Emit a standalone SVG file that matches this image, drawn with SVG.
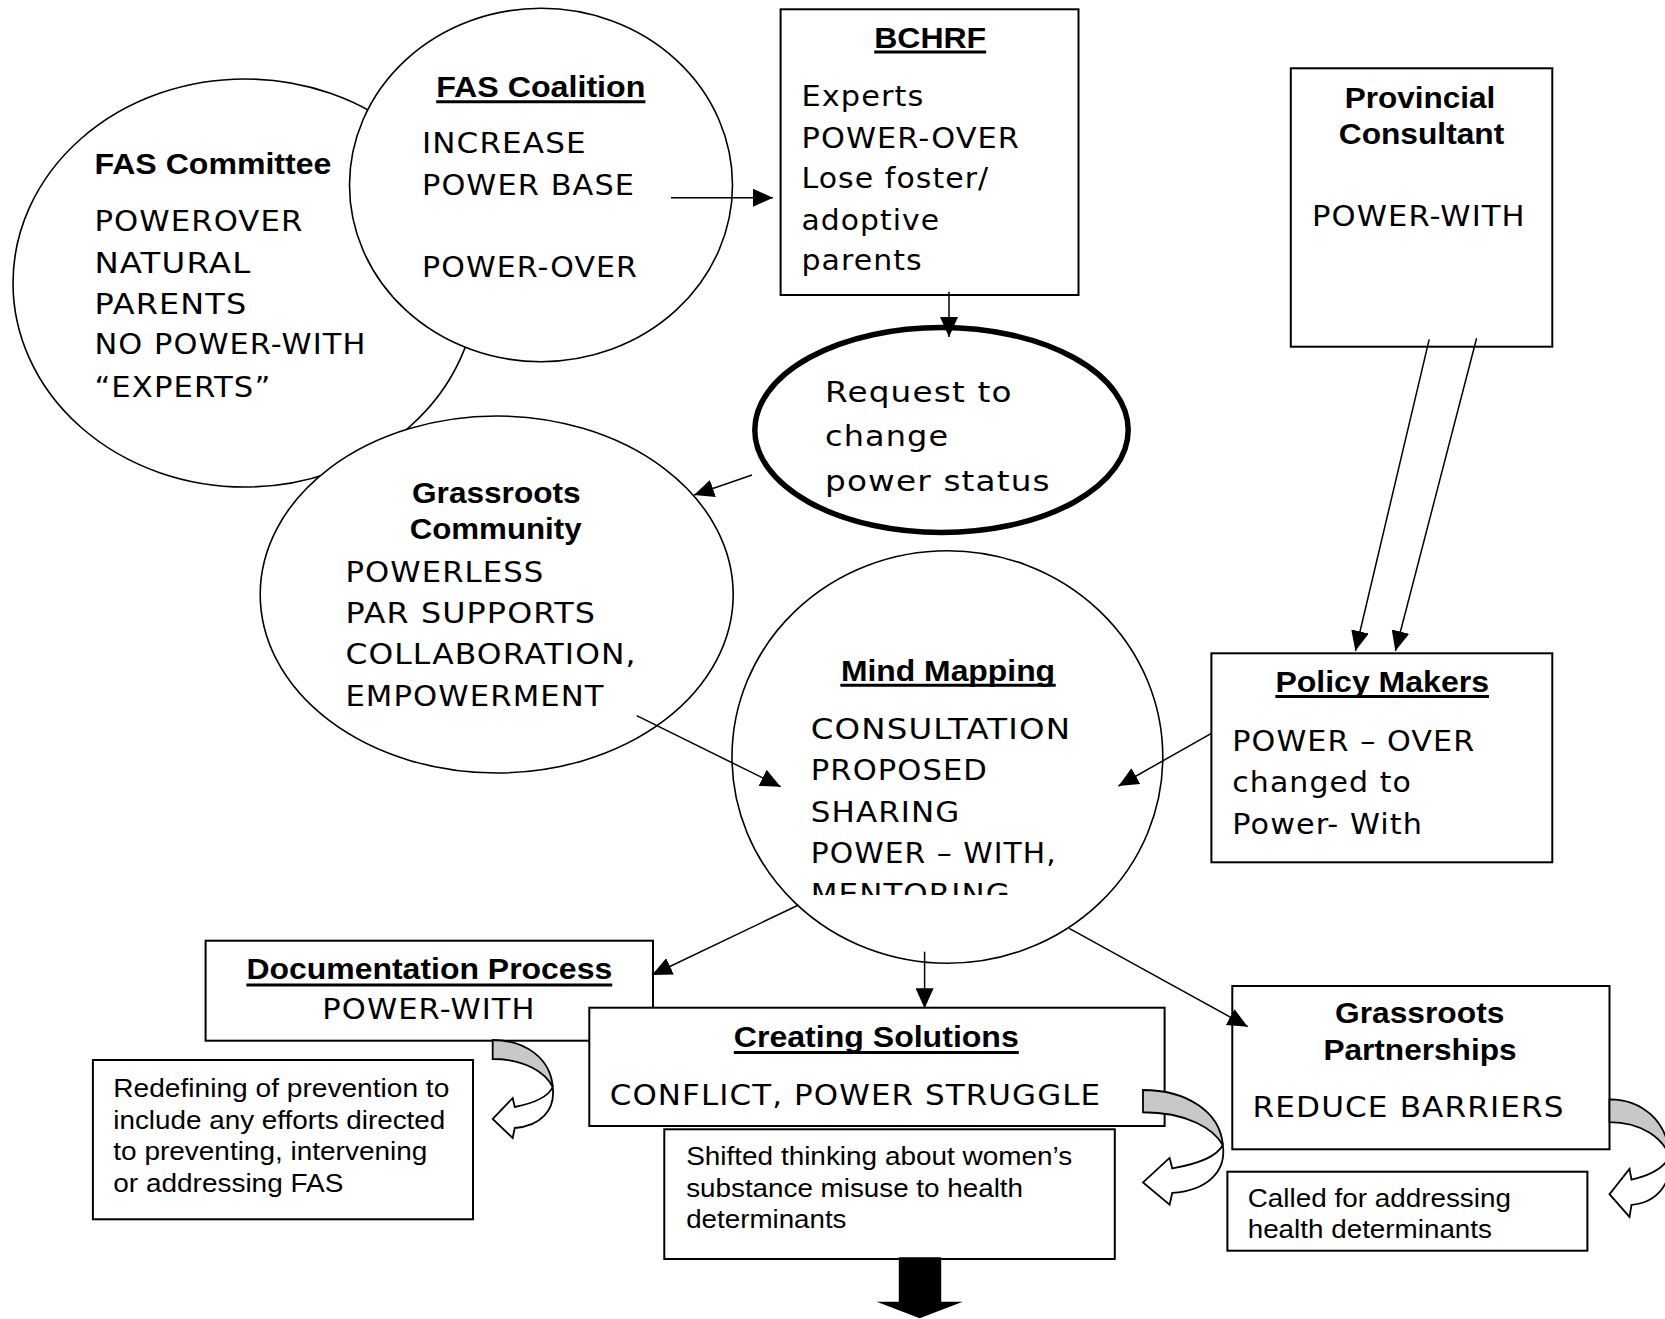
<svg xmlns="http://www.w3.org/2000/svg" xmlns:xlink="http://www.w3.org/1999/xlink" width="1665" height="1319" viewBox="0 0 1665 1319">
<style>
.el{fill:#fff;stroke:#000;stroke-width:1.6}
.box{fill:#fff;stroke:#000;stroke-width:2}
.h{font-family:"Liberation Sans",Arial,sans-serif;font-weight:bold;font-size:29px;fill:#000}
.b{font-family:"DejaVu Sans",Verdana,sans-serif;font-size:28px;letter-spacing:1px;fill:#000}
.s{font-family:"Liberation Sans",Arial,sans-serif;font-size:26px;fill:#000}
.ul{stroke:#000;stroke-width:3}
.conn line{stroke:#000;stroke-width:1.5;fill:none;marker-end:url(#ah)}
.cb{fill:#c8c8c8;stroke:#000;stroke-width:1.8}
.cf{fill:#fff;stroke:#000;stroke-width:1.8}
</style>
<defs>
<marker id="ah" markerUnits="userSpaceOnUse" markerWidth="20" markerHeight="18" refX="20" refY="9" orient="auto"><path d="M0,0L20,9L0,18Z" fill="#000"/></marker>
<clipPath id="mindclip"><rect x="780" y="600" width="330" height="295"/></clipPath>
<g id="carrow">
<path class="cb" vector-effect="non-scaling-stroke" d="M0,0 C32,0 58,18 60,47 C53,33 33,19 0,19 Z"/>
<path class="cf" vector-effect="non-scaling-stroke" d="M60,47 C63,70 48,86 22,88 L20,98 L0,79 L20,58 L22,67 C42,63 56,56 60,47 Z"/>
</g>
</defs>
<rect width="1665" height="1319" fill="#fff"/>

<g id="fas-committee">
<ellipse class="el" cx="245" cy="283" rx="232" ry="204"/>
<text class="h" x="94.4" y="174" textLength="237" lengthAdjust="spacingAndGlyphs">FAS Committee</text>
<text class="b" x="94.4" y="230.7" textLength="209" lengthAdjust="spacingAndGlyphs">POWEROVER</text>
<text class="b" x="94.4" y="272.7" textLength="157" lengthAdjust="spacingAndGlyphs">NATURAL</text>
<text class="b" x="94.4" y="313.5" textLength="153" lengthAdjust="spacingAndGlyphs">PARENTS</text>
<text class="b" x="94.4" y="354.3" textLength="272" lengthAdjust="spacingAndGlyphs">NO POWER-WITH</text>
<text class="b" x="94.4" y="396.7" textLength="177" lengthAdjust="spacingAndGlyphs">“EXPERTS”</text>
</g>

<g id="fas-coalition">
<ellipse class="el" cx="541" cy="185" rx="191.5" ry="176.7"/>
<text class="h" x="436.2" y="96.7" textLength="209.2" lengthAdjust="spacingAndGlyphs">FAS Coalition</text>
<line class="ul" x1="436.2" y1="101.8" x2="645.4" y2="101.8"/>
<text class="b" x="422" y="152.7" textLength="164.7" lengthAdjust="spacingAndGlyphs">INCREASE</text>
<text class="b" x="422" y="195" textLength="213" lengthAdjust="spacingAndGlyphs">POWER BASE</text>
<text class="b" x="422" y="276.7" textLength="216" lengthAdjust="spacingAndGlyphs">POWER-OVER</text>
</g>

<g id="grassroots-community">
<ellipse class="el" cx="496.7" cy="594.5" rx="236.5" ry="178.5"/>
<text class="h" x="496.3" y="503.3" text-anchor="middle" textLength="168.6" lengthAdjust="spacingAndGlyphs">Grassroots</text>
<text class="h" x="495.6" y="539.3" text-anchor="middle" textLength="171.9" lengthAdjust="spacingAndGlyphs">Community</text>
<text class="b" x="345.4" y="581.7" textLength="199" lengthAdjust="spacingAndGlyphs">POWERLESS</text>
<text class="b" x="345.4" y="622.7" textLength="250.6" lengthAdjust="spacingAndGlyphs">PAR SUPPORTS</text>
<text class="b" x="345.4" y="664" textLength="291.3" lengthAdjust="spacingAndGlyphs">COLLABORATION,</text>
<text class="b" x="345.4" y="705.7" textLength="259.2" lengthAdjust="spacingAndGlyphs">EMPOWERMENT</text>
</g>

<g id="bchrf">
<rect class="box" x="780.6" y="9.3" width="297.9" height="285.7"/>
<text class="h" x="874.2" y="48.3" textLength="112" lengthAdjust="spacingAndGlyphs">BCHRF</text>
<line class="ul" x1="874.2" y1="52" x2="986.2" y2="52"/>
<text class="b" x="801.5" y="106" textLength="123" lengthAdjust="spacingAndGlyphs">Experts</text>
<text class="b" x="801.5" y="148.3" textLength="218.5" lengthAdjust="spacingAndGlyphs">POWER-OVER</text>
<text class="b" x="801.5" y="188.3" textLength="187.7" lengthAdjust="spacingAndGlyphs">Lose foster/</text>
<text class="b" x="801.5" y="230" textLength="138.5" lengthAdjust="spacingAndGlyphs">adoptive</text>
<text class="b" x="801.5" y="270" textLength="121.3" lengthAdjust="spacingAndGlyphs">parents</text>
</g>

<g id="request">
<ellipse cx="941.5" cy="430" rx="186.7" ry="102.5" fill="#fff" stroke="#000" stroke-width="5.5"/>
<text class="b" x="825" y="401.7" textLength="187.6" lengthAdjust="spacingAndGlyphs">Request to</text>
<text class="b" x="825" y="446" textLength="124.2" lengthAdjust="spacingAndGlyphs">change</text>
<text class="b" x="825" y="491" textLength="225.8" lengthAdjust="spacingAndGlyphs">power status</text>
</g>

<g id="provincial-consultant">
<rect class="box" x="1290.8" y="68.3" width="261.5" height="278.4"/>
<text class="h" x="1420" y="107.7" text-anchor="middle" textLength="150.7" lengthAdjust="spacingAndGlyphs">Provincial</text>
<text class="h" x="1421.5" y="144" text-anchor="middle" textLength="165.5" lengthAdjust="spacingAndGlyphs">Consultant</text>
<text class="b" x="1312" y="226" textLength="213.6" lengthAdjust="spacingAndGlyphs">POWER-WITH</text>
</g>

<g id="mind-mapping">
<ellipse class="el" cx="947.4" cy="757" rx="215.4" ry="206.3"/>
<text class="h" x="948" y="681" text-anchor="middle" textLength="214.2" lengthAdjust="spacingAndGlyphs">Mind Mapping</text>
<line class="ul" x1="840.3" y1="685.3" x2="1055.7" y2="685.3"/>
<g clip-path="url(#mindclip)">
<text class="b" x="810.8" y="739.3" textLength="260.3" lengthAdjust="spacingAndGlyphs">CONSULTATION</text>
<text class="b" x="810.8" y="780" textLength="177.2" lengthAdjust="spacingAndGlyphs">PROPOSED</text>
<text class="b" x="810.8" y="821.7" textLength="149.5" lengthAdjust="spacingAndGlyphs">SHARING</text>
<text class="b" x="810.8" y="863.3" textLength="246" lengthAdjust="spacingAndGlyphs">POWER – WITH,</text>
<text class="b" x="810.8" y="904.3" textLength="200" lengthAdjust="spacingAndGlyphs">MENTORING</text>
</g>
</g>

<g id="policy-makers">
<rect class="box" x="1211.4" y="653.3" width="340.9" height="209"/>
<text class="h" x="1382.2" y="691.7" text-anchor="middle" textLength="213.6" lengthAdjust="spacingAndGlyphs">Policy Makers</text>
<line class="ul" x1="1275.4" y1="696.5" x2="1489" y2="696.5"/>
<text class="b" x="1232.3" y="750.7" textLength="243" lengthAdjust="spacingAndGlyphs">POWER – OVER</text>
<text class="b" x="1232.3" y="791.7" textLength="179.7" lengthAdjust="spacingAndGlyphs">changed to</text>
<text class="b" x="1232.3" y="834" textLength="190.8" lengthAdjust="spacingAndGlyphs">Power- With</text>
</g>

<g id="documentation-process">
<rect class="box" x="205.6" y="940.7" width="447.4" height="100"/>
<text class="h" x="429.3" y="979" text-anchor="middle" textLength="365.8" lengthAdjust="spacingAndGlyphs">Documentation Process</text>
<line class="ul" x1="246.4" y1="985" x2="612.2" y2="985"/>
<text class="b" x="429" y="1019" text-anchor="middle" textLength="213.3" lengthAdjust="spacingAndGlyphs">POWER-WITH</text>
</g>

<g id="creating-solutions">
<rect class="box" x="589.3" y="1007.7" width="575.3" height="118.3"/>
<text class="h" x="876.3" y="1046.7" text-anchor="middle" textLength="285" lengthAdjust="spacingAndGlyphs">Creating Solutions</text>
<line class="ul" x1="733.8" y1="1052.5" x2="1018.8" y2="1052.5"/>
<text class="b" x="609.7" y="1105" textLength="491.5" lengthAdjust="spacingAndGlyphs">CONFLICT, POWER STRUGGLE</text>
</g>

<g id="grassroots-partnerships">
<rect class="box" x="1232.3" y="986" width="377.2" height="163.3"/>
<text class="h" x="1419.7" y="1023.3" text-anchor="middle" textLength="169.3" lengthAdjust="spacingAndGlyphs">Grassroots</text>
<text class="h" x="1420" y="1060" text-anchor="middle" textLength="193.2" lengthAdjust="spacingAndGlyphs">Partnerships</text>
<text class="b" x="1252.6" y="1116.7" textLength="312" lengthAdjust="spacingAndGlyphs">REDUCE BARRIERS</text>
</g>

<g id="redefining">
<rect class="box" x="92.9" y="1060" width="380.1" height="159.3"/>
<text class="s" x="113.3" y="1097" textLength="336" lengthAdjust="spacingAndGlyphs">Redefining of prevention to</text>
<text class="s" x="113.3" y="1128.5" textLength="332" lengthAdjust="spacingAndGlyphs">include any efforts directed</text>
<text class="s" x="113.3" y="1160" textLength="314" lengthAdjust="spacingAndGlyphs">to preventing, intervening</text>
<text class="s" x="113.3" y="1191.5" textLength="230" lengthAdjust="spacingAndGlyphs">or addressing FAS</text>
</g>

<g id="shifted-thinking">
<rect class="box" x="664.3" y="1129.3" width="450.5" height="129.7"/>
<text class="s" x="686.2" y="1165" textLength="386" lengthAdjust="spacingAndGlyphs">Shifted thinking about women’s</text>
<text class="s" x="686.2" y="1196.7" textLength="336.8" lengthAdjust="spacingAndGlyphs">substance misuse to health</text>
<text class="s" x="686.2" y="1228.3" textLength="160.3" lengthAdjust="spacingAndGlyphs">determinants</text>
</g>

<g id="called-for">
<rect class="box" x="1227.4" y="1171.7" width="360" height="79"/>
<text class="s" x="1247.7" y="1206.7" textLength="263.3" lengthAdjust="spacingAndGlyphs">Called for addressing</text>
<text class="s" x="1247.7" y="1238.3" textLength="244.3" lengthAdjust="spacingAndGlyphs">health determinants</text>
</g>

<g id="curved-arrows">
<use xlink:href="#carrow" href="#carrow" transform="translate(492.7,1040)"/>
<use xlink:href="#carrow" href="#carrow" transform="translate(1143,1090) scale(1.33,1.17)"/>
<use xlink:href="#carrow" href="#carrow" transform="translate(1609.5,1099.3) scale(1,1.2)"/>
</g>

<g id="down-arrow">
<polygon points="898.8,1257.3 941.2,1257.3 941.2,1301.7 962.8,1301.7 919.7,1318.3 876.6,1301.7 898.8,1301.7" fill="#000"/>
</g>

<g id="connectors" class="conn">
<line x1="671" y1="197.7" x2="773" y2="197.7"/>
<line x1="949" y1="291.7" x2="949" y2="337"/>
<line x1="752" y1="475" x2="694" y2="495"/>
<line x1="636.7" y1="715.7" x2="780.6" y2="786.7"/>
<line x1="1211.4" y1="733.3" x2="1118.5" y2="786"/>
<line x1="1429.2" y1="339.3" x2="1355.4" y2="651"/>
<line x1="1476.6" y1="338.3" x2="1395.4" y2="651"/>
<line x1="798.5" y1="905" x2="652" y2="975"/>
<line x1="924.6" y1="951.7" x2="924.6" y2="1008.3"/>
<line x1="1069.2" y1="928.3" x2="1247.7" y2="1026.7"/>
</g>
</svg>
